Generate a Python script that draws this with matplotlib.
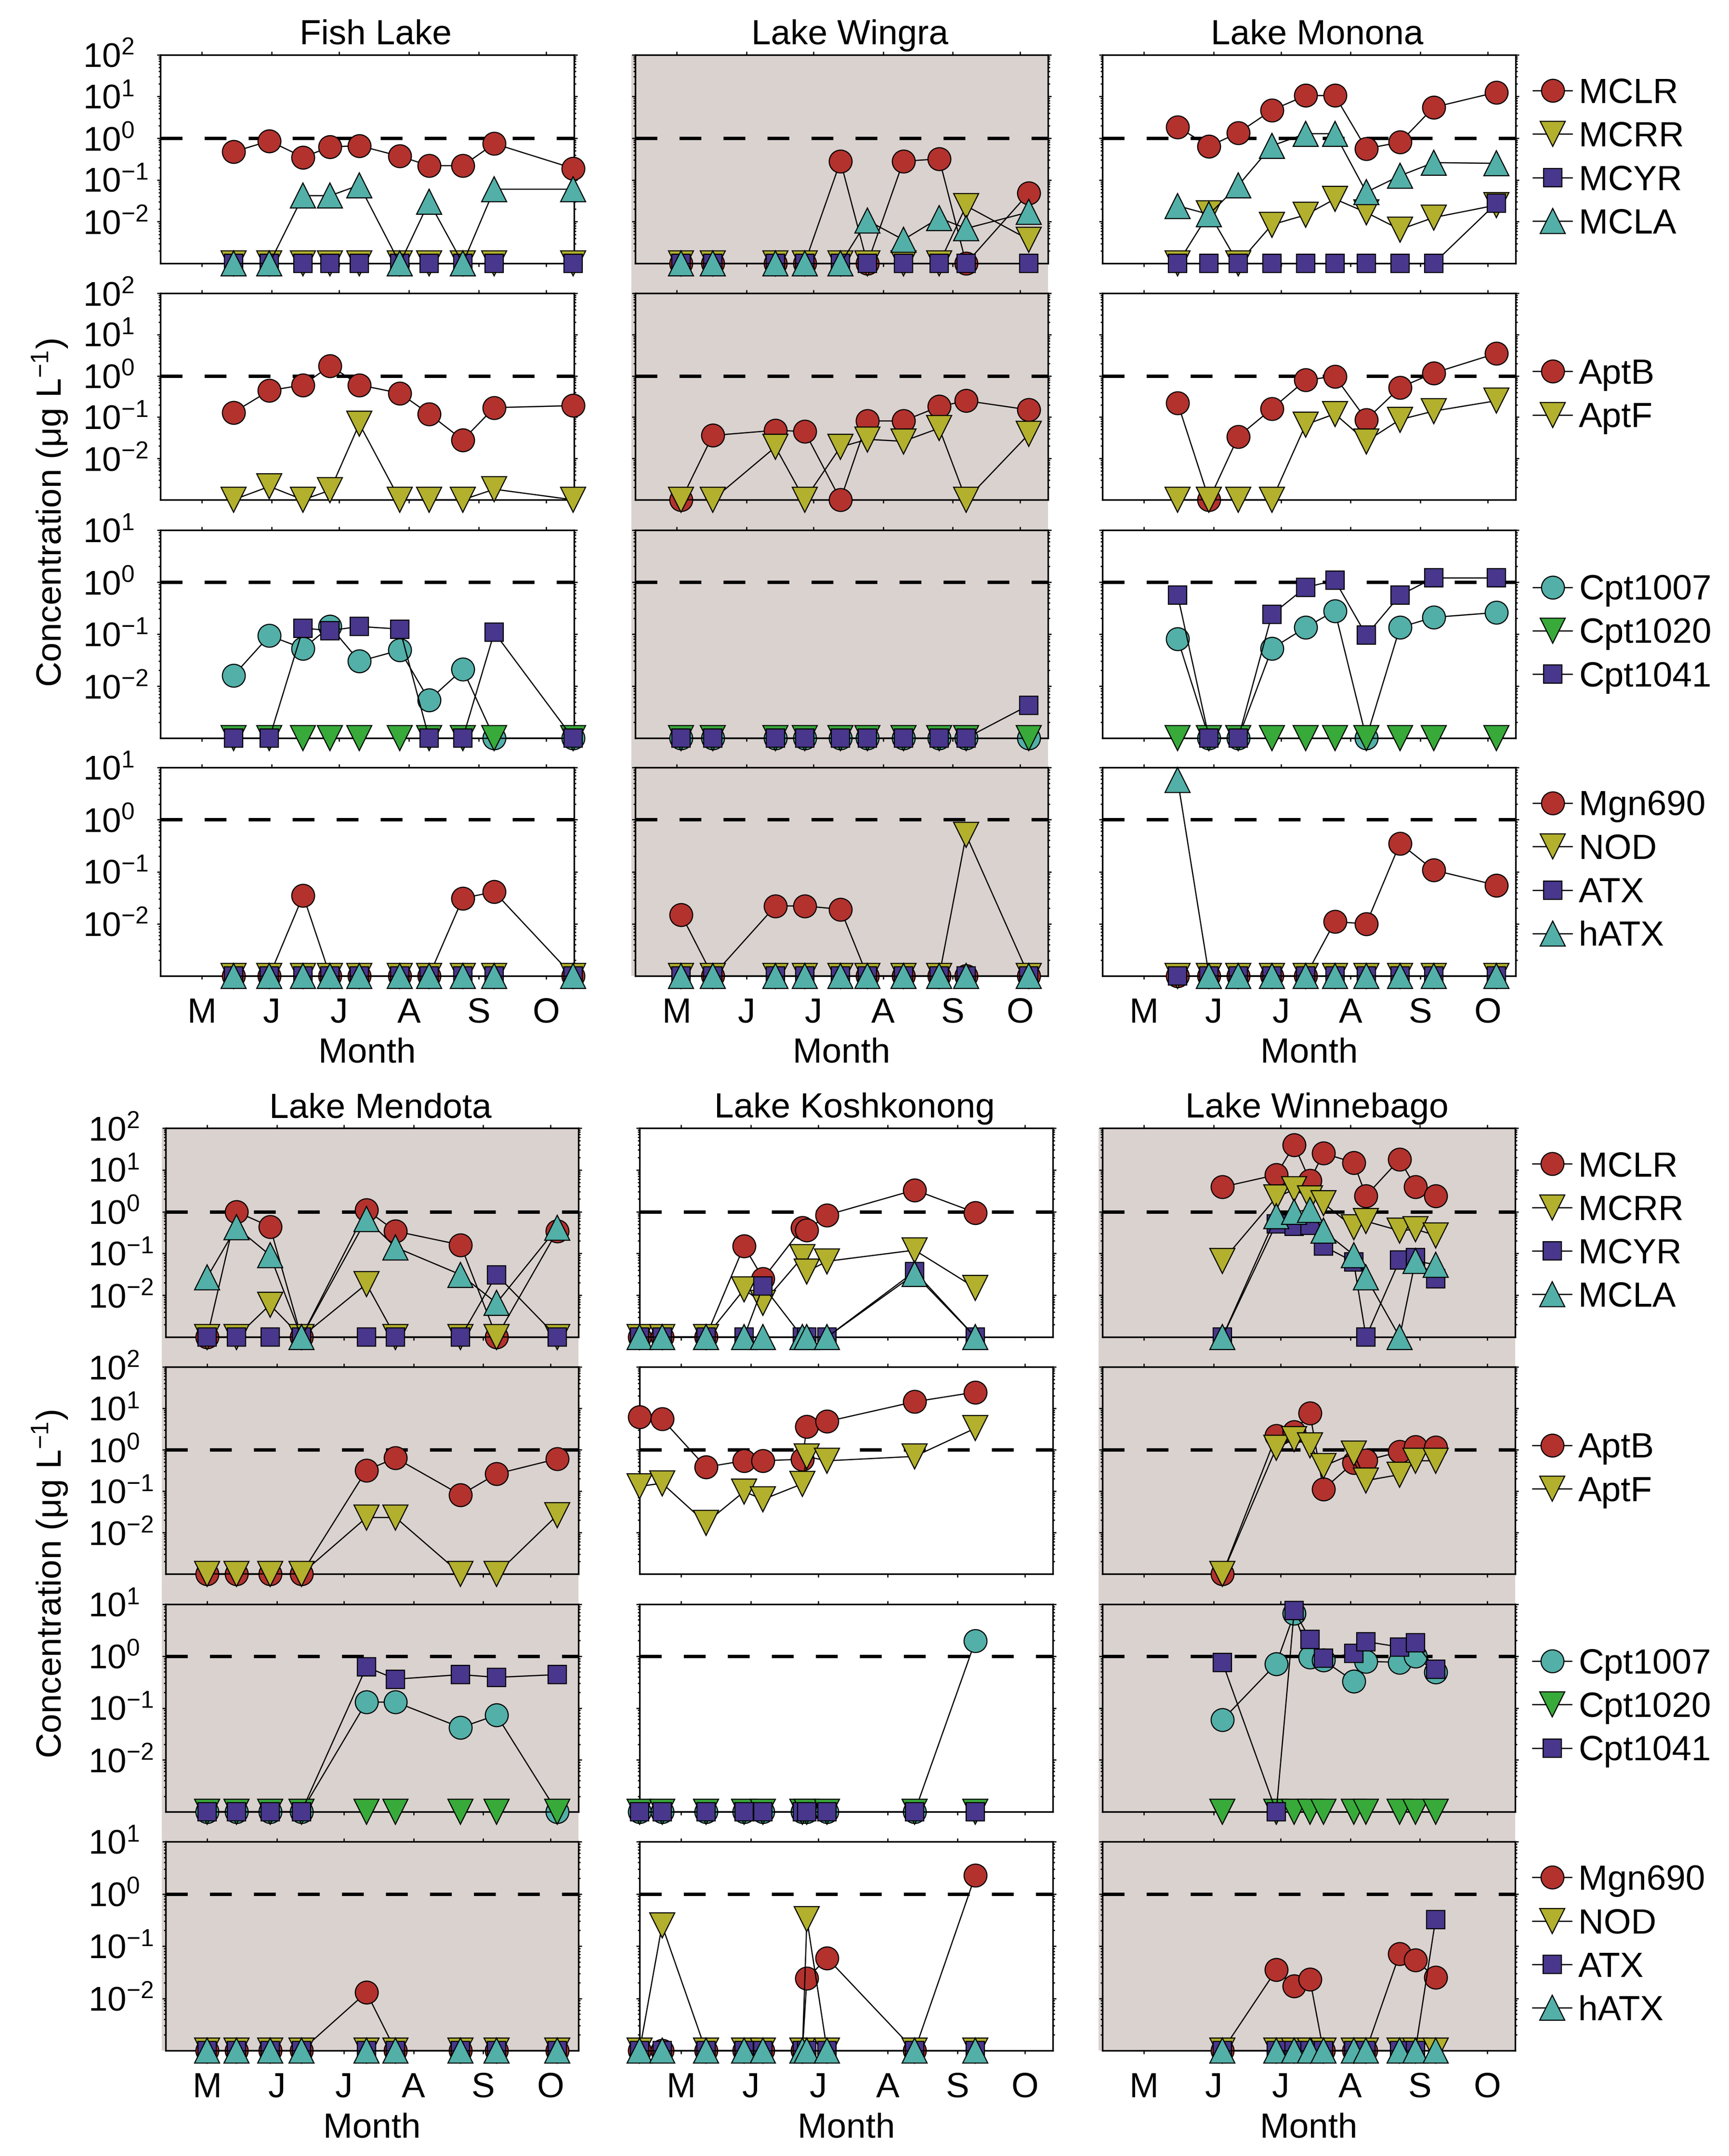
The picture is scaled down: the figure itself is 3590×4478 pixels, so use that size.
import numpy as np
import matplotlib
matplotlib.use('Agg')
import matplotlib.pyplot as plt
from matplotlib.patches import Rectangle
from matplotlib.ticker import LogLocator, NullFormatter, FixedLocator

plt.rcParams['font.family'] = ['Liberation Sans', 'DejaVu Sans']
plt.rcParams['mathtext.fontset'] = 'custom'
plt.rcParams['mathtext.rm'] = 'Liberation Sans'
plt.rcParams['mathtext.it'] = 'Liberation Sans:italic'
plt.rcParams['mathtext.bf'] = 'Liberation Sans:bold'

ND = 1e-3  # non-detect plotted at the axis floor

# ---------------- Fish Lake ----------------
fish_dates = [135, 151, 166, 178, 191, 209, 222, 237, 251, 286]
fish_MCLR = [0.47, 0.86, 0.35, 0.62, 0.66, 0.37, 0.22, 0.22, 0.74, 0.19]
fish_MCRR = [ND] * 10
fish_MCYR = [ND] * 10
fish_MCLA = [ND, ND, 0.042, 0.042, 0.075, ND, 0.03, ND, 0.06, 0.06]
fish_AptB = [0.13, 0.44, 0.6, 1.76, 0.6, 0.38, 0.12, 0.028, 0.17, 0.19]
fish_AptF = [ND, 0.0021, ND, 0.0017, 0.069, ND, ND, ND, 0.0018, ND]
fish_Cpt1007 = [0.016, 0.093, 0.053, 0.14, 0.030, 0.049, 0.0054, 0.021, ND, ND]
fish_Cpt1020 = [ND] * 10
fish_Cpt1041 = [ND, ND, 0.13, 0.117, 0.14, 0.125, ND, ND, 0.108, ND]
fish_Mgn690 = [ND, ND, 0.035, ND, ND, ND, ND, 0.031, 0.041, ND]
fish_NOD = [ND] * 10
fish_ATX = [ND] * 10
fish_hATX = [ND] * 10

# ---------------- Lake Wingra ----------------
wingra_dates = [123, 137, 165, 178, 194, 206, 222, 238, 250, 278]
wingra_MCLR = [ND, ND, ND, ND, 0.28, ND, 0.28, 0.32, ND, 0.049]
wingra_MCRR = [ND, ND, ND, ND, ND, ND, ND, ND, 0.024, 0.0037]
wingra_MCYR = [ND] * 10
wingra_MCLA = [ND, ND, ND, ND, ND, 0.0107, 0.0037, 0.0123, 0.0069, 0.017]
wingra_AptB = [ND, 0.036, 0.048, 0.045, ND, 0.081, 0.081, 0.18, 0.25, 0.15]
wingra_AptF = [ND, ND, 0.019, ND, 0.019, 0.029, 0.026, 0.054, ND, 0.039]
wingra_Cpt1007 = [ND] * 10
wingra_Cpt1020 = [ND] * 10
wingra_Cpt1041 = [ND, ND, ND, ND, ND, ND, ND, ND, ND, 0.0043]
wingra_Mgn690 = [0.015, ND, 0.022, 0.022, 0.019, ND, ND, ND, ND, ND]
wingra_NOD = [ND, ND, ND, ND, ND, ND, ND, ND, 0.51, ND]
wingra_ATX = [ND] * 10
wingra_hATX = [ND] * 10

# ---------------- Lake Monona ----------------
monona_dates = [136, 150, 163, 178, 193, 206, 220, 235, 250, 278]
monona_MCLR = [1.86, 0.64, 1.35, 4.7, 10.5, 10.5, 0.56, 0.8, 5.5, 12.6]
monona_MCRR = [ND, 0.016, ND, 0.0085, 0.0145, 0.035, 0.0166, 0.0065, 0.0126, 0.025]
monona_MCYR = [ND, ND, ND, ND, ND, ND, ND, ND, ND, 0.028]
monona_MCLA = [0.024, 0.015, 0.074, 0.66, 1.28, 1.28, 0.051, 0.126, 0.26, 0.25]
monona_AptB = [0.22, ND, 0.034, 0.16, 0.79, 0.97, 0.087, 0.52, 1.17, 3.5]
monona_AptF = [ND, ND, ND, ND, 0.066, 0.12, 0.026, 0.087, 0.14, 0.25]
monona_Cpt1007 = [0.081, ND, ND, 0.053, 0.134, 0.28, ND, 0.135, 0.21, 0.26]
monona_Cpt1020 = [ND] * 10
monona_Cpt1041 = [0.56, ND, ND, 0.24, 0.79, 1.08, 0.095, 0.56, 1.2, 1.2]
monona_Mgn690 = [ND, ND, ND, ND, ND, 0.011, 0.010, 0.35, 0.107, 0.055]
monona_NOD = [ND] * 10
monona_ATX = [ND] * 10
monona_hATX = [5.8, ND, ND, ND, ND, ND, ND, ND, ND, ND]

# ---------------- Lake Mendota ----------------
mendota_dates = [121, 134, 149, 163, 192, 205, 234, 250, 277]
mendota_MCLR = [ND, 1.0, 0.44, ND, 1.1, 0.34, 0.16, ND, 0.34]
mendota_MCRR = [ND, ND, 0.0059, ND, 0.0186, ND, ND, ND, ND]
mendota_MCYR = [ND, ND, ND, ND, ND, ND, ND, 0.031, ND]
mendota_MCLA = [0.027, 0.42, 0.091, ND, 0.66, 0.14, 0.031, 0.0065, 0.41]
mendota_AptB = [ND, ND, ND, ND, 0.32, 0.63, 0.081, 0.26, 0.60]
mendota_AptF = [ND, ND, ND, ND, 0.023, 0.023, ND, ND, 0.026]
mendota_Cpt1007 = [ND, ND, ND, ND, 0.13, 0.13, 0.042, 0.073, ND]
mendota_Cpt1020 = [ND] * 9
mendota_Cpt1041 = [ND, ND, ND, ND, 0.62, 0.36, 0.44, 0.39, 0.44]
mendota_Mgn690 = [ND, ND, ND, ND, 0.013, ND, ND, ND, ND]
mendota_NOD = [ND] * 9
mendota_ATX = [ND] * 9
mendota_hATX = [ND] * 9

# ---------------- Lake Koshkonong ----------------
kosh_dates = [102.5, 112.5, 132, 149, 157.5, 175, 177, 186, 225, 252]
kosh_MCLR = [ND, ND, ND, 0.15, 0.025, 0.41, 0.36, 0.83, 3.3, 0.95]
kosh_MCRR = [ND, ND, ND, 0.0138, 0.0065, 0.081, 0.037, 0.065, 0.12, 0.015]
kosh_MCYR = [ND, ND, ND, ND, 0.0166, ND, ND, ND, 0.037, ND]
kosh_MCLA = [ND, ND, ND, ND, ND, ND, ND, ND, 0.032, ND]
kosh_AptB = [6.2, 5.5, 0.38, 0.54, 0.54, 0.59, 3.6, 4.8, 14.4, 24.5]
kosh_AptF = [0.13, 0.155, 0.017, 0.097, 0.063, 0.15, 0.68, 0.54, 0.69, 3.3]
kosh_Cpt1007 = [ND, ND, ND, ND, ND, ND, ND, ND, ND, 1.96]
kosh_Cpt1020 = [ND] * 10
kosh_Cpt1041 = [ND] * 10
kosh_Mgn690 = [ND, ND, ND, ND, ND, ND, 0.024, 0.059, ND, 2.25]
kosh_NOD = [ND, 0.25, ND, ND, ND, ND, 0.33, ND, ND, ND]
kosh_ATX = [ND] * 10
kosh_hATX = [ND] * 10

# ---------------- Lake Winnebago ----------------
winn_dates = [156, 180, 188, 195, 201, 214.5, 220, 235, 242, 251]
winn_MCLR = [3.9, 7.6, 39, 5.5, 25, 15, 2.4, 17.8, 3.9, 2.4]
winn_MCRR = [0.066, 2.2, 3.4, 2.1, 1.6, 0.42, 0.59, 0.35, 0.38, 0.27]
winn_MCYR = [ND, 0.51, 0.45, 0.47, 0.15, 0.063, ND, 0.069, 0.079, 0.025]
winn_MCLA = [ND, 0.78, 1.0, 1.1, 0.35, 0.092, 0.027, ND, 0.066, 0.054]
winn_AptB = [ND, 2.2, 2.7, 7.6, 0.11, 0.49, 0.55, 0.89, 1.18, 1.14]
winn_AptF = [ND, 1.1, 1.8, 1.26, 0.40, 0.81, 0.18, 0.25, 0.54, 0.54]
winn_Cpt1007 = [0.059, 0.71, 6.6, 0.95, 0.83, 0.33, 0.79, 0.76, 1.0, 0.49]
winn_Cpt1020 = [ND] * 10
winn_Cpt1041 = [0.76, ND, 7.6, 2.1, 0.91, 1.12, 1.9, 1.5, 1.8, 0.56]
winn_Mgn690 = [ND, 0.035, 0.017, 0.023, ND, ND, ND, 0.071, 0.054, 0.025]
winn_NOD = [ND] * 10
winn_ATX = [ND, ND, ND, ND, ND, ND, ND, ND, ND, 0.32]
winn_hATX = [ND] * 10

lake_names = ['Fish Lake', 'Lake Wingra', 'Lake Monona',
              'Lake Mendota', 'Lake Koshkonong', 'Lake Winnebago']
lake_prefix = ['fish', 'wingra', 'monona', 'mendota', 'kosh', 'winn']
lake_shaded = [False, True, False, True, False, True]

month_ticks = [121, 152, 182, 213, 244, 274]
month_labels = ['M', 'J', 'J', 'A', 'S', 'O']

# ---------------- styles ----------------
RED = '#b3322e'
OLIVE = '#b2b02d'
BLUE = '#48378c'
TEAL = '#52b0a8'
GREEN = '#38aa3a'
SHADE = '#dad2cf'

groups = [
    (['MCLR', 'MCRR', 'MCYR', 'MCLA'], [('o', RED), ('v', OLIVE), ('s', BLUE), ('^', TEAL)], 1e2),
    (['AptB', 'AptF'], [('o', RED), ('v', OLIVE)], 1e2),
    (['Cpt1007', 'Cpt1020', 'Cpt1041'], [('o', TEAL), ('v', GREEN), ('s', BLUE)], 1e1),
    (['Mgn690', 'NOD', 'ATX', 'hATX'], [('o', RED), ('v', OLIVE), ('s', BLUE), ('^', TEAL)], 1e1),
]
msize = {'o': 11.4, 'v': 12.6, 's': 9.0, '^': 12.6}

# ---------------- layout (pixels) ----------------
W, H = 3590, 4478
DPI = 300
cols_top = [(333, 1192), (1319, 2176), (2289, 3147)]
cols_bot = [(344, 1201), (1328, 2186), (2289, 3146)]
rows_top = [(113.6, 547.2), (609, 1038), (1101, 1533), (1594, 2027)]
rows_bot = [(2343, 2777), (2839, 3269), (3332, 3763), (3825, 4259)]

fig = plt.figure(figsize=(W / DPI, H / DPI), dpi=DPI)


def frac_rect(xl, xr, yt, yb):
    return [xl / W, 1 - yb / H, (xr - xl) / W, (yb - yt) / H]


for li, name in enumerate(lake_names):
    block = li // 3
    col = li % 3
    cols = cols_top if block == 0 else cols_bot
    rows = rows_top if block == 0 else rows_bot
    xl, xr = cols[col]
    p = lake_prefix[li]
    dates = globals()[p + '_dates']

    if lake_shaded[li]:
        fig.add_artist(Rectangle(((xl - 8) / W, 1 - rows[3][1] / H),
                                 (xr - xl + 8) / W, (rows[3][1] - rows[0][0]) / H,
                                 transform=fig.transFigure, facecolor=SHADE,
                                 edgecolor='none', zorder=-10))

    for ri, (toxins, styles, ytop) in enumerate(groups):
        yt, yb = rows[ri]
        ax = fig.add_axes(frac_rect(xl, xr, yt, yb))
        ax.set_facecolor(SHADE if lake_shaded[li] else 'white')
        ax.set_yscale('log')
        ax.set_ylim(1e-3, ytop)
        ax.set_xlim(102.5, 286.5)
        ax.axhline(1.0, color='k', lw=1.7, dashes=(6.4, 6.5), zorder=1)
        for tox, (mk, colr) in zip(toxins, styles):
            vals = globals()[p + '_' + tox]
            ax.plot(dates, vals, color='k', lw=0.6, marker=mk, ms=msize[mk],
                    mfc=colr, mec='k', mew=0.55, clip_on=False, zorder=3,
                    label=tox)

        majors = [1e-2, 1e-1, 1e0, 1e1, 1e2] if ytop == 1e2 else [1e-2, 1e-1, 1e0, 1e1]
        ax.yaxis.set_major_locator(FixedLocator(majors))
        ax.yaxis.set_minor_locator(LogLocator(base=10, subs=np.arange(2, 10), numticks=30))
        ax.yaxis.set_minor_formatter(NullFormatter())
        if col == 0:
            exps = [int(round(np.log10(m))) for m in majors]
            ax.set_yticklabels(['$10^{%d}$' % e for e in exps])
            for lab in ax.get_yticklabels():
                lab.set_horizontalalignment('left')
        else:
            ax.set_yticklabels([])

        ax.set_xticks(month_ticks)
        if ri == 3:
            ax.set_xticklabels(month_labels)
            ax.text(0.5, -0.415, 'Month', transform=ax.transAxes, ha='center',
                    va='baseline', fontsize=17.5)
        else:
            ax.set_xticklabels([])

        ax.tick_params(axis='both', which='both', direction='out', top=True,
                       right=True, width=0.6, colors='k')
        ax.tick_params(axis='both', which='major', length=1.7)
        ax.tick_params(axis='both', which='minor', length=1.0)
        ax.tick_params(axis='x', labelsize=17.5, pad=9)
        ax.tick_params(axis='y', labelsize=17, pad=37)
        for sp in ax.spines.values():
            sp.set_linewidth(0.8)
            sp.set_color('k')

        if ri == 0:
            ax.text(0.52, 1 + 22 / (yb - yt), name, transform=ax.transAxes,
                    ha='center', va='baseline', fontsize=17.5)

        if col == 2:
            ax.legend(loc='center left', bbox_to_anchor=(1.0, 0.5), frameon=False,
                      fontsize=17.5, handlelength=1.1, handletextpad=0.2,
                      labelspacing=0.32, borderpad=0.4, borderaxespad=0.1,
                      numpoints=1)

fig.text(105 / W, 1 - 1065 / H, 'Concentration (μg L$^{-1}$)', rotation=90,
         ha='center', va='center', fontsize=17.5)
fig.text(105 / W, 1 - 3290 / H, 'Concentration (μg L$^{-1}$)', rotation=90,
         ha='center', va='center', fontsize=17.5)

fig.savefig('out.png', dpi=DPI, facecolor='white')
